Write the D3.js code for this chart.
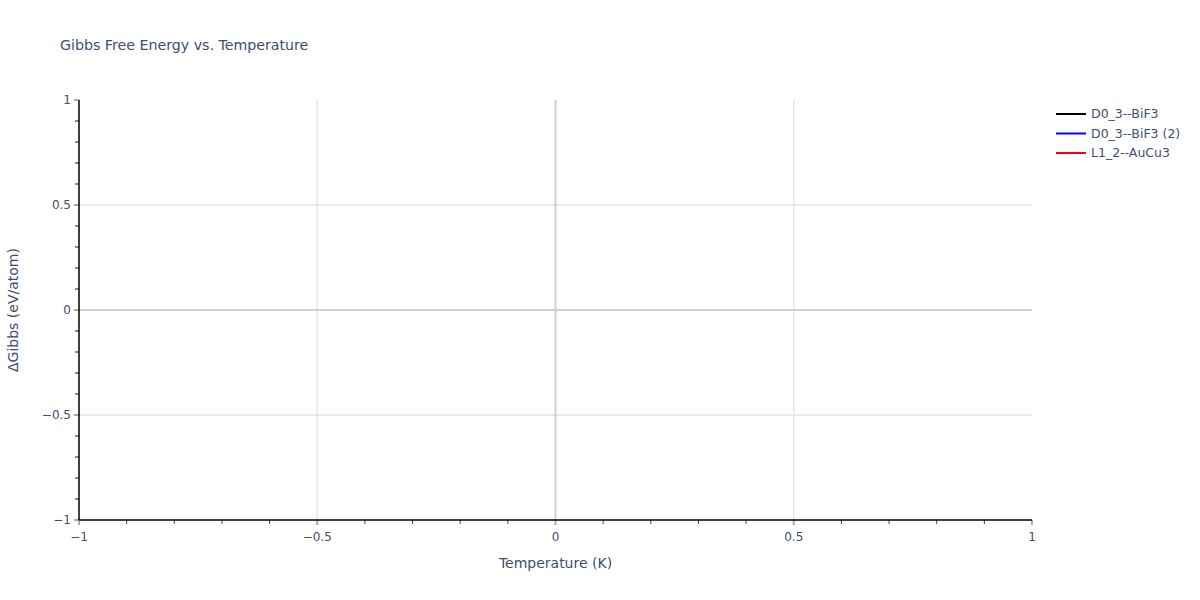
<!DOCTYPE html>
<html>
<head>
<meta charset="utf-8">
<script src="https://d3js.org/d3.v7.min.js"></script>
<style>
  body { margin: 0; background: #fff; }
  text { font-family: "DejaVu Sans", Verdana, sans-serif; fill: #3c4f6f; }
</style>
</head>
<body>
<svg width="1200" height="600"></svg>
<script>
// empty figure: only the legend entries and axis ranges exist
const seriesNames = ['D0_3--BiF3', 'D0_3--BiF3 (2)', 'L1_2--AuCu3'];
const seriesColors = ['#000000', '#0000ff', '#ff0000'];
const xDomain = [-1, 1];
const yDomain = [-1, 1];
const majorTicks = [-1, -0.5, 0, 0.5, 1];
const minorTicks = [-0.9, -0.8, -0.7, -0.6, -0.4, -0.3, -0.2, -0.1, 0.1, 0.2, 0.3, 0.4, 0.6, 0.7, 0.8, 0.9];

const margin = {top: 100, right: 168, bottom: 80, left: 79};
const width = 1200 - margin.left - margin.right;
const height = 600 - margin.top - margin.bottom;

const svg = d3.select('svg');
const g = svg.append('g').attr('transform', `translate(${margin.left},${margin.top})`);

const x = d3.scaleLinear().domain(xDomain).range([0, width]);
const y = d3.scaleLinear().domain(yDomain).range([height, 0]);

const fmt = d => d3.format('')(d).replace('-', '\u2212');
const inner = majorTicks.filter(d => d !== 0 && d > -1 && d < 1);

// grid
g.selectAll('line.gx')
  .data(inner)
  .enter().append('line')
  .attr('x1', d => x(d)).attr('x2', d => x(d))
  .attr('y1', 0).attr('y2', height)
  .style('stroke', '#e5e5e5').style('stroke-width', 1.5);

g.selectAll('line.gy')
  .data(inner)
  .enter().append('line')
  .attr('x1', 0).attr('x2', width)
  .attr('y1', d => y(d)).attr('y2', d => y(d))
  .style('stroke', '#e5e5e5').style('stroke-width', 1.5);

// zero lines
g.append('line')
  .attr('x1', x(0)).attr('x2', x(0)).attr('y1', 0).attr('y2', height)
  .style('stroke', '#d0d0d0').style('stroke-width', 2);
g.append('line')
  .attr('x1', 0).attr('x2', width).attr('y1', y(0)).attr('y2', y(0))
  .style('stroke', '#d0d0d0').style('stroke-width', 2);

// x axis
const xAxis = g.append('g').attr('transform', `translate(0,${height})`);
xAxis.selectAll('line.minor')
  .data(minorTicks).enter().append('line')
  .attr('x1', d => x(d)).attr('x2', d => x(d))
  .attr('y1', 0).attr('y2', 4)
  .style('stroke', '#444').style('stroke-width', 1);
xAxis.selectAll('line.major')
  .data(majorTicks).enter().append('line')
  .attr('x1', d => x(d)).attr('x2', d => x(d))
  .attr('y1', 0).attr('y2', 5)
  .style('stroke', '#aaa').style('stroke-width', 2);
xAxis.selectAll('text')
  .data(majorTicks).enter().append('text')
  .attr('x', d => x(d)).attr('y', 21)
  .attr('text-anchor', 'middle')
  .style('font-size', '12px')
  .text(fmt);
xAxis.append('line')
  .attr('x1', 0).attr('x2', width).attr('y1', 0).attr('y2', 0)
  .style('stroke', '#000').style('stroke-width', 1.5);

// y axis
const yAxis = g.append('g');
yAxis.selectAll('line.minor')
  .data(minorTicks).enter().append('line')
  .attr('x1', -4).attr('x2', 0)
  .attr('y1', d => y(d)).attr('y2', d => y(d))
  .style('stroke', '#666').style('stroke-width', 1.5);
yAxis.selectAll('line.major')
  .data(majorTicks).enter().append('line')
  .attr('x1', -5).attr('x2', 0)
  .attr('y1', d => y(d)).attr('y2', d => y(d))
  .style('stroke', '#aaa').style('stroke-width', 2);
yAxis.selectAll('text')
  .data(majorTicks).enter().append('text')
  .attr('x', -8).attr('y', d => y(d) + 4)
  .attr('text-anchor', 'end')
  .style('font-size', '12px')
  .text(fmt);
yAxis.append('line')
  .attr('x1', 0).attr('x2', 0).attr('y1', 0).attr('y2', height)
  .style('stroke', '#000').style('stroke-width', 1.5);

// titles
svg.append('text')
  .attr('x', 60).attr('y', 50)
  .style('font-size', '14.2px')
  .text('Gibbs Free Energy vs. Temperature');

svg.append('text')
  .attr('x', margin.left + width / 2).attr('y', 568)
  .attr('text-anchor', 'middle')
  .style('font-size', '14px')
  .text('Temperature (K)');

svg.append('text')
  .attr('transform', `translate(18,${margin.top + height / 2}) rotate(-90)`)
  .attr('text-anchor', 'middle')
  .style('font-size', '14px')
  .text('\u0394Gibbs (eV/atom)');

// legend
const legend = svg.append('g').attr('transform', 'translate(1056,114)');
const items = legend.selectAll('g')
  .data(seriesNames).enter().append('g')
  .attr('transform', (d, i) => `translate(0,${i * 19.5})`);
items.append('line')
  .attr('x1', 0).attr('x2', 30).attr('y1', 0).attr('y2', 0)
  .style('stroke', (d, i) => seriesColors[i]).style('stroke-width', 2);
items.append('text')
  .attr('x', 35).attr('y', 4)
  .style('font-size', '12.5px')
  .text(d => d);
</script>
</body>
</html>
